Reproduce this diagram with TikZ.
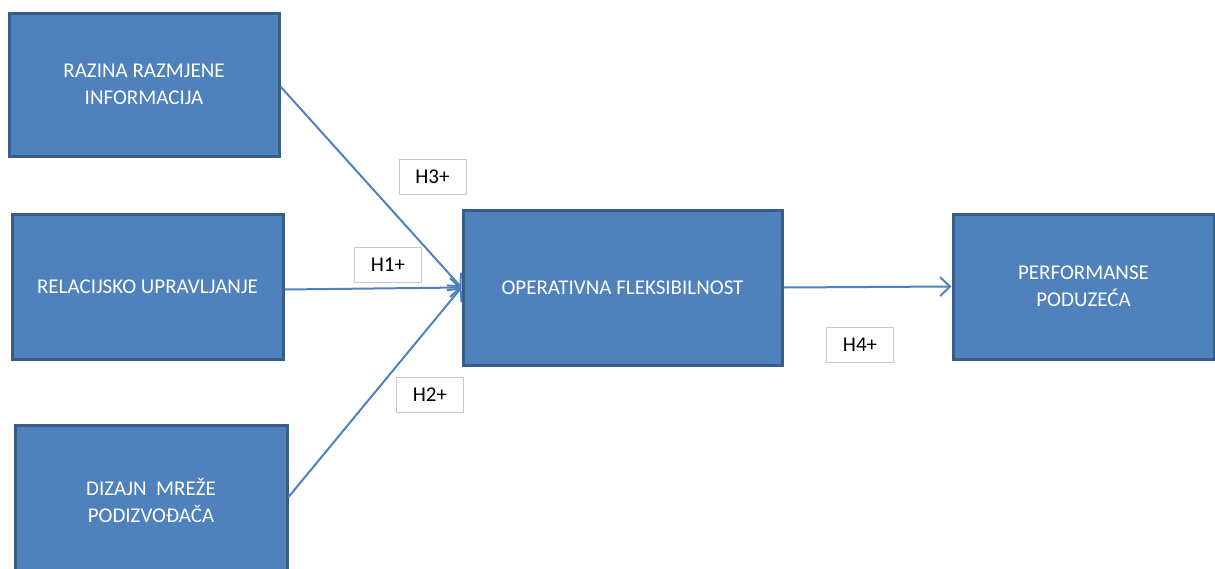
\documentclass[tikz,border=0pt]{standalone}
\usepackage{fontspec}
\setmainfont{Carlito}
\usetikzlibrary{arrows.meta}
\definecolor{boxfill}{HTML}{4F81BD}
\definecolor{boxedge}{HTML}{385D8A}
\definecolor{lbledge}{HTML}{C8C8C8}
\tikzset{
  bluebox/.style={draw=boxedge, line width=3pt, fill=boxfill, text=white,
    align=center, inner sep=0pt, font=\fontsize{21}{27}\selectfont},
  hyplabel/.style={draw=lbledge, line width=1pt, fill=white, text=black,
    inner sep=0pt, minimum width=67pt, minimum height=35pt,
    font=\fontsize{21}{24}\selectfont},
  link/.style={draw=boxfill, line width=2pt,
    -{Straight Barb[length=10pt,width=19pt,line width=2pt]}}
}
\begin{document}
\begin{tikzpicture}[x=1pt,y=-1pt]
\useasboundingbox (0,0) rectangle (1215,568);
\begin{scope}
\clip (0,0) rectangle (1215,568);
\node[bluebox, minimum width=270pt, minimum height=143pt] (raz) at (144,84.5) {RAZINA RAZMJENE\\INFORMACIJA};
\node[bluebox, minimum width=271pt, minimum height=145pt] (rel) at (147.5,286.5) {RELACIJSKO UPRAVLJANJE};
\node[bluebox, minimum width=272pt, minimum height=150pt] (diz) at (151,500) {DIZAJN\ \ MREŽE\\PODIZVOĐAČA};
\node[bluebox, minimum width=319pt, minimum height=155pt] (op) at (622.5,287.5) {OPERATIVNA FLEKSIBILNOST};
\node[bluebox, minimum width=261pt, minimum height=145pt] (perf) at (1083.5,286.5) {PERFORMANSE\\PODUZEĆA};
\end{scope}
\node[hyplabel] (h3) at (432.5,176.5) {H3+};
\node[hyplabel] (h1) at (388,265) {H1+};
\node[hyplabel] (h2) at (430,394.5) {H2+};
\node[hyplabel] (h4) at (860,344.5) {H4+};
\draw[link] ([yshift=-2pt]raz.east) -- (op.west);
\draw[link] ([yshift=-3pt]rel.east) -- (op.west);
\draw[link] ([yshift=3pt]diz.east) -- (op.west);
\draw[link] (op.east) -- (perf.west);
\end{tikzpicture}
\end{document}
